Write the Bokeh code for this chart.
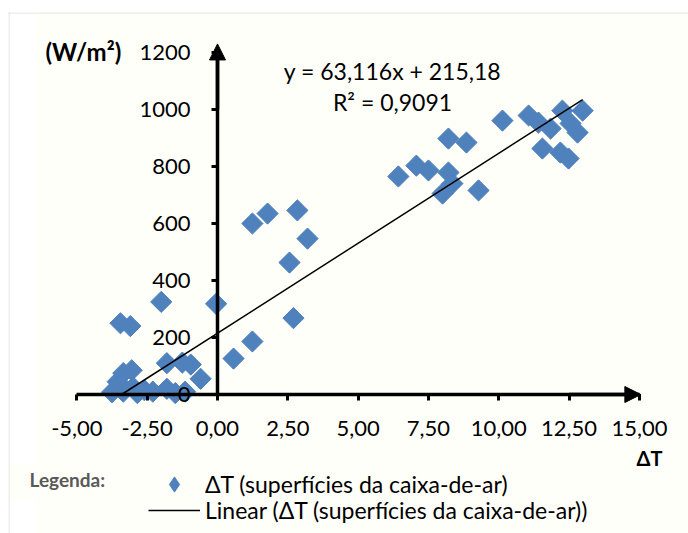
import numpy as np
from bokeh.plotting import figure
from bokeh.models import (Range1d, FixedTicker, BoxAnnotation, Label, Arrow, NormalHead,
                          Legend, LegendItem)
from bokeh.embed import file_html
from bokeh.resources import INLINE

# ---------------- data ----------------
DT = [-3.75, -3.55, -3.45, -3.35, -3.35, -3.10, -3.05, -3.00, -2.85, -2.60,
      -2.30, -2.00, -1.80, -1.80, -1.50, -1.25, -1.15, -0.95, -0.60, -0.05,
      0.57, 1.24, 1.24, 1.78, 2.56, 2.70, 2.84, 3.20,
      6.43, 7.07, 7.50, 8.00, 8.21, 8.35, 8.21, 8.85, 9.28, 10.13,
      11.06, 11.41, 11.55, 11.84, 12.19, 12.26, 12.48, 12.55, 12.80, 12.98]
W = [8, 45, 250, 75, 10, 240, 85, 25, 5, 15,
     10, 325, 110, 20, 5, 112, 10, 105, 55, 318,
     126, 186, 600, 635, 463, 268, 646, 547,
     765, 803, 786, 705, 779, 740, 898, 884, 716, 961,
     979, 954, 863, 933, 849, 996, 828, 951, 919, 996]

SLOPE = 63.116
INTERCEPT = 215.18
EQ_TEXT = "y = 63,116x + 215,18"
R2_TEXT = "R² = 0,9091"

X_TICKS = [-5.0, -2.5, 0.0, 2.5, 5.0, 7.5, 10.0, 12.5, 15.0]
X_LABELS = ["-5,00", "-2,50", "0,00", "2,50", "5,00", "7,50", "10,00", "12,50", "15,00"]
Y_TICKS = [0, 200, 400, 600, 800, 1000, 1200]
Y_LABELS = ["0", "200", "400", "600", "800", "1000", "1200"]

SERIES = "ΔT (superfícies da caixa-de-ar)"
TREND = "Linear (ΔT (superfícies da caixa-de-ar))"

# ---------------- layout helpers ----------------
CW, CH = 688, 533
X0, XS = 217.0, 28.13      # canvas px of x=0, px per unit
Y0, YS = 394.0, 0.285      # canvas px of y=0 (from top), px per unit

def cx(px):
    return (px - X0) / XS

def cy(py):
    return (Y0 - py) / YS

FONT = "Lato"
BLUE = "#4F81BD"
CREAM = "#FFFFF2"
GRAY = "#D4D4D4"

p = figure(width=CW, height=CH, output_backend="svg", toolbar_location=None,
           x_range=Range1d(cx(0), cx(CW)), y_range=Range1d(cy(CH), cy(0)),
           min_border=0, background_fill_color="white", border_fill_color="white",
           outline_line_color=None)
p.grid.visible = False

# backgrounds / frame
p.add_layout(BoxAnnotation(left=cx(35), right=cx(CW), top=cy(13.5), bottom=cy(CH),
                           fill_color=CREAM, line_color=None, level="underlay"))
p.add_layout(BoxAnnotation(left=cx(9.5), right=cx(35.5), top=cy(463), bottom=cy(500),
                           fill_color=CREAM, line_color=None, level="underlay"))
p.add_layout(BoxAnnotation(left=cx(8), right=cx(9.5), top=cy(12), bottom=cy(CH),
                           fill_color=GRAY, line_color=None, level="underlay"))
p.add_layout(BoxAnnotation(left=cx(8), right=cx(CW), top=cy(12), bottom=cy(13.5),
                           fill_color=GRAY, line_color=None, level="underlay"))

# axes crossing at zero
for ax in (p.xaxis[0], p.yaxis[0]):
    ax.fixed_location = 0
    ax.axis_line_color = "black"
    ax.axis_line_width = 3.5
    ax.major_tick_line_color = "black"
    ax.major_tick_line_width = 3
    ax.major_tick_in = 0
    ax.major_tick_out = 6
    ax.minor_tick_line_color = None
    ax.major_label_text_font = FONT
    ax.major_label_text_font_size = "22px"
    ax.major_label_text_color = "black"

p.xaxis[0].bounds = (X_TICKS[0], X_TICKS[-1])
p.xaxis[0].ticker = FixedTicker(ticks=X_TICKS, minor_ticks=[])
p.xaxis[0].major_label_overrides = {float(t): l for t, l in zip(X_TICKS, X_LABELS)}
p.xaxis[0].major_label_standoff = 20

p.yaxis[0].bounds = (Y_TICKS[0], Y_TICKS[-1])
p.yaxis[0].ticker = FixedTicker(ticks=Y_TICKS, minor_ticks=[])
p.yaxis[0].major_label_overrides = {float(t): l for t, l in zip(Y_TICKS, Y_LABELS)}
p.yaxis[0].major_label_standoff = 21

# arrow heads
p.add_layout(Arrow(end=NormalHead(size=16, fill_color="black", line_color="black"),
                   x_start=X_TICKS[-2], y_start=0, x_end=X_TICKS[-1] + 0.05, y_end=0,
                   line_width=3.5, line_color="black"))
p.add_layout(Arrow(end=NormalHead(size=16, fill_color="black", line_color="black"),
                   x_start=0, y_start=Y_TICKS[-2], x_end=0, y_end=Y_TICKS[-1] + 30,
                   line_width=3.5, line_color="black"))

# data
pts = p.scatter(DT, W, marker="square", angle=np.pi / 4, size=15,
                fill_color=BLUE, line_color=BLUE)

x_lo = max(min(DT), -INTERCEPT / SLOPE)
tx = np.array([x_lo, max(DT)])
trend = p.line(tx, SLOPE * tx + INTERCEPT, line_color="black", line_width=1.5)

# legend-only diamond glyph (legend cannot rotate the square marker); NaN = not drawn in plot
key = p.scatter(x=[np.nan], y=[np.nan], marker="diamond", fill_color=BLUE, line_color=BLUE)

# texts
p.add_layout(Label(x=cx(392), y=cy(70), text=EQ_TEXT, text_font=FONT, text_font_size="23px",
                   text_align="center", text_baseline="middle", text_color="black"))
p.add_layout(Label(x=cx(392), y=cy(101), text=R2_TEXT, text_font=FONT, text_font_size="23px",
                   text_align="center", text_baseline="middle", text_color="black"))
p.add_layout(Label(x=cx(45), y=cy(51), text="(W/m²)", text_font=FONT, text_font_size="24px",
                   text_font_style="bold", text_align="left", text_baseline="middle",
                   text_color="black"))
p.add_layout(Label(x=cx(649), y=cy(457), text="ΔT", text_font=FONT, text_font_size="20px",
                   text_font_style="bold", text_align="center", text_baseline="middle",
                   text_color="black"))
p.add_layout(Label(x=cx(29), y=cy(479), text="Legenda:", text_font=FONT, text_font_size="19px",
                   text_font_style="bold", text_align="left", text_baseline="middle",
                   text_color="#595959"))

def make_legend(item, loc, gh):
    return Legend(items=[item], location=loc, glyph_width=52, glyph_height=gh,
                  label_height=20, label_standoff=5, spacing=0, padding=0, margin=0,
                  border_line_color=None, background_fill_alpha=0,
                  label_text_font=FONT, label_text_font_size="23px",
                  label_text_color="black", label_text_baseline="middle")

p.add_layout(make_legend(LegendItem(label=SERIES, renderers=[key]), (148, CH - 503), 38))
p.add_layout(make_legend(LegendItem(label=TREND, renderers=[trend]), (148, CH - 524), 20))

open("out.html", "w").write(file_html(p, INLINE))
